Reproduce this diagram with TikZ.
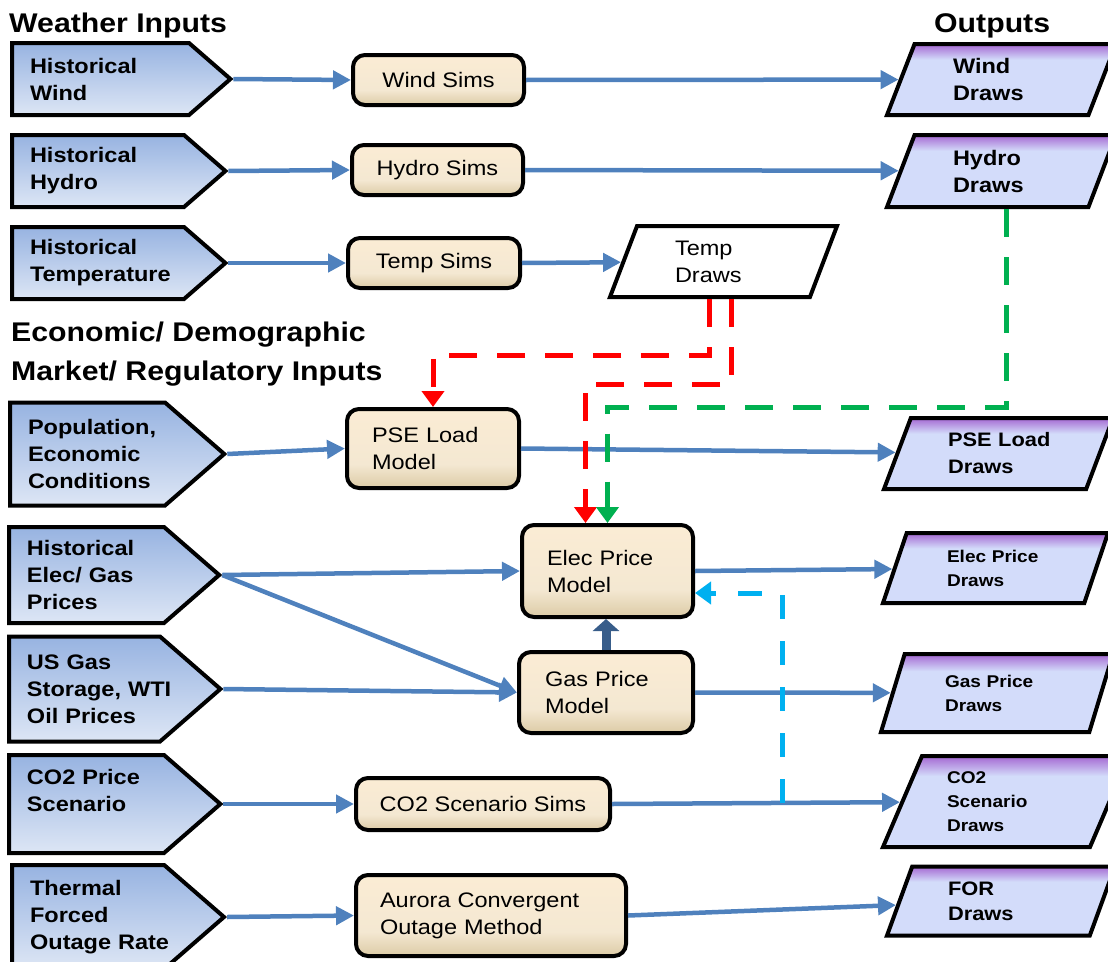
\documentclass[tikz,border=0pt]{standalone}
\usepackage{fontspec}
\setmainfont{Liberation Sans}[FakeStretch=1.12]
\usetikzlibrary{arrows.meta,calc,shapes.geometric,shapes.symbols}
\definecolor{inptop}{HTML}{97B3E1}
\definecolor{inpbot}{HTML}{DDE6F5}
\definecolor{mdltop}{HTML}{FBECD4}
\definecolor{mdlmid}{HTML}{F4E8D2}
\definecolor{mdlbot}{HTML}{DCCBA6}
\definecolor{outtop}{HTML}{A467D2}
\definecolor{outbot}{HTML}{D3DCFA}
\definecolor{flowblue}{HTML}{4F81BD}
\definecolor{flowdark}{HTML}{385D8A}
\definecolor{dashred}{HTML}{FF0000}
\definecolor{dashgreen}{HTML}{00B050}
\definecolor{dashcyan}{HTML}{00B0F0}
\pgfdeclareverticalshading{drawsfill}{100bp}{color(0bp)=(outbot); color(64bp)=(outbot);
  color(75bp)=(outtop); color(100bp)=(outtop)}
\pgfdeclareverticalshading{mdlfill}{100bp}{color(0bp)=(mdlbot); color(25bp)=(mdlbot);
  color(40bp)=(mdlmid); color(75bp)=(mdltop); color(100bp)=(mdltop)}
\tikzset{
  inp/.style    = {signal, signal to=east, signal pointer angle=82, draw=black,
                   line width=4pt, top color=inptop, bottom color=inpbot, anchor=west,
                   inner xsep=18pt, inner ysep=0pt, align=left,
                   font=\fontsize{21}{27}\selectfont\bfseries},
  mdl/.style    = {rectangle, rounded corners=12pt, draw=black, line width=4pt,
                   shading=mdlfill, inner sep=0pt, align=left,
                   font=\fontsize{21}{27}\selectfont},
  outbase/.style = {trapezium, trapezium left angle=57, trapezium right angle=123,
                   trapezium stretches body, draw=black, line width=4pt,
                   inner sep=0pt, align=left},
  outp/.style   = {outbase, shading=drawsfill, font=\fontsize{21}{27}\selectfont\bfseries},
  outs/.style   = {outbase, shading=drawsfill, font=\fontsize{17}{24}\selectfont\bfseries},
  ttl/.style    = {inner sep=0pt, anchor=base west, font=\fontsize{27}{38}\selectfont\bfseries},
  ed/.style     = {-{Triangle[length=18pt,width=18pt]}, draw=flowblue, line width=4.5pt},
  edk/.style    = {-{Triangle[length=12pt,width=26pt]}, draw=flowdark, line width=9pt},
  edr/.style    = {-{Triangle[length=16pt,width=22pt]}, draw=dashred, line width=5pt,
                   dash pattern=on 28pt off 20pt},
  edg/.style    = {edr, draw=dashgreen},
  edc/.style    = {-{Triangle[length=16pt,width=22pt]}, draw=dashcyan, line width=5pt,
                   dash pattern=on 24pt off 22pt},
}

\begin{document}
\begin{tikzpicture}[x=1pt,y=-1pt]
  \useasboundingbox (0,0) rectangle (1108,961);
  \clip (0,0) rectangle (1108,961);

  % headings
  \node[ttl] (twea) at (9,32) {Weather Inputs};
  \node[ttl] (tout) at (934,32) {Outputs};
  \node[ttl] (teco) at (11,341) {Economic/ Demographic};
  \node[ttl] (tmkt) at (11,380) {Market/ Regulatory Inputs};

  % inputs (text width = whole width - pointer - 36)
  \node[inp, minimum width=218, minimum height=72, text width=141] (hwind) at (10,79)
    {Historical\\Wind};
  \node[inp, minimum width=213, minimum height=72, text width=136] (hhydro) at (10,171)
    {Historical\\Hydro};
  \node[inp, minimum width=213, minimum height=72, text width=136] (htemp) at (10,263)
    {Historical\\Temperature};
  \node[inp, minimum width=214, minimum height=103, text width=119] (hpop) at (8,454)
    {Population,\\Economic\\Conditions};
  \node[inp, minimum width=210, minimum height=96, text width=119] (helec) at (7,575)
    {Historical\\Elec/~Gas\\Prices};
  \node[inp, minimum width=211, minimum height=105, text width=115] (husgas) at (7,689)
    {US~Gas\\Storage,~WTI\\Oil~Prices};
  \node[inp, minimum width=211, minimum height=98, text width=119] (hco2) at (7,804)
    {CO2~Price\\Scenario\\\mbox{}};
  \node[inp, minimum width=212, minimum height=104, text width=116] (hfor) at (10,917)
    {Thermal\\Forced\\Outage~Rate};

  % models
  \node[mdl, minimum width=171, minimum height=50, align=center] (wsims) at (438.5,80) {Wind Sims};
  \node[mdl, minimum width=171, minimum height=50, align=center] (hsims) at (437.5,170) {Hydro Sims};
  \node[mdl, minimum width=172, minimum height=50, align=center] (tsims) at (434,263) {Temp Sims};
  \node[mdl, minimum width=172, minimum height=79, text width=122] (pmodel) at (433,448.5)
    {PSE~Load\\Model};
  \node[mdl, minimum width=171, minimum height=92, text width=121] (emodel) at (607.5,571)
    {Elec~Price\\Model};
  \node[mdl, minimum width=174, minimum height=81, text width=122] (gmodel) at (606,692.5)
    {Gas~Price\\Model};
  \node[mdl, minimum width=254, minimum height=52, align=center] (csims) at (483,804)
    {CO2 Scenario Sims};
  \node[mdl, minimum width=270, minimum height=81, text width=222] (amodel) at (491,915.5)
    {Aurora~Convergent\\Outage~Method};

  % outputs
  \node[outp, minimum width=229, minimum height=71, text width=97] (wdraws) at (1001.5,79.5)
    {Wind\\Draws};
  \node[outp, minimum width=229, minimum height=72, text width=97] (hdraws) at (1001.5,171)
    {Hydro\\Draws};
  \node[outbase, fill=white, minimum width=227, minimum height=71, text width=97,
    font=\fontsize{21}{27}\selectfont] (tdraws) at (723.5,261.5) {Temp\\Draws};
  \node[outp, minimum width=229, minimum height=71, text width=101,
    font=\fontsize{19.5}{27}\selectfont\bfseries] (pdraws) at (998.5,453.5) {PSE~Load\\Draws};
  \node[outs, minimum width=225, minimum height=70, text width=97] (edraws) at (995.5,568)
    {Elec~Price\\Draws};
  \node[outs, minimum width=232, minimum height=78, text width=104] (gdraws) at (997,693)
    {Gas~Price\\Draws};
  \node[outs, minimum width=246, minimum height=91, text width=118] (cdraws) at (1006,801.5)
    {CO2\\Scenario\\Draws};
  \node[outp, minimum width=228, minimum height=69, text width=106,
    font=\fontsize{19.5}{25}\selectfont\bfseries] (fdraws) at (1001,901) {FOR\\Draws};

  % flows
  \foreach \s/\t in {hwind.east/wsims.west, hhydro.east/hsims.west, htemp.east/tsims.west,
      hpop.east/pmodel.west, helec.east/emodel.west, helec.east/gmodel.west,
      husgas.east/gmodel.west, hco2.east/csims.west, hfor.east/amodel.west,
      wsims.east/wdraws, hsims.east/hdraws, tsims.east/tdraws, pmodel.east/pdraws,
      emodel.east/edraws, gmodel.east/gdraws, csims.east/cdraws, amodel.east/fdraws}
    \draw[ed] (\s) -- (\t);
  \draw[edk] (gmodel.north) -- (gmodel.north |- emodel.south);

  % feedback links
  \coordinate (ctap) at ($(csims.east)!0.59!(cdraws.west)$);
  \draw[edr] (tdraws.bottom side) -- ++(0,56) -| (pmodel.north);
  \draw[edr] ($(tdraws.bottom side)+(22,0)$) -- ++(0,85) -| ($(emodel.north)+(-22,0)$);
  \draw[edg] ($(hdraws.bottom side)+(20,0)$) -- ++(0,198) -| (emodel.north);
  \draw[edc] (ctap) |- ($(emodel.east)+(0,22)$);
\end{tikzpicture}
\end{document}
